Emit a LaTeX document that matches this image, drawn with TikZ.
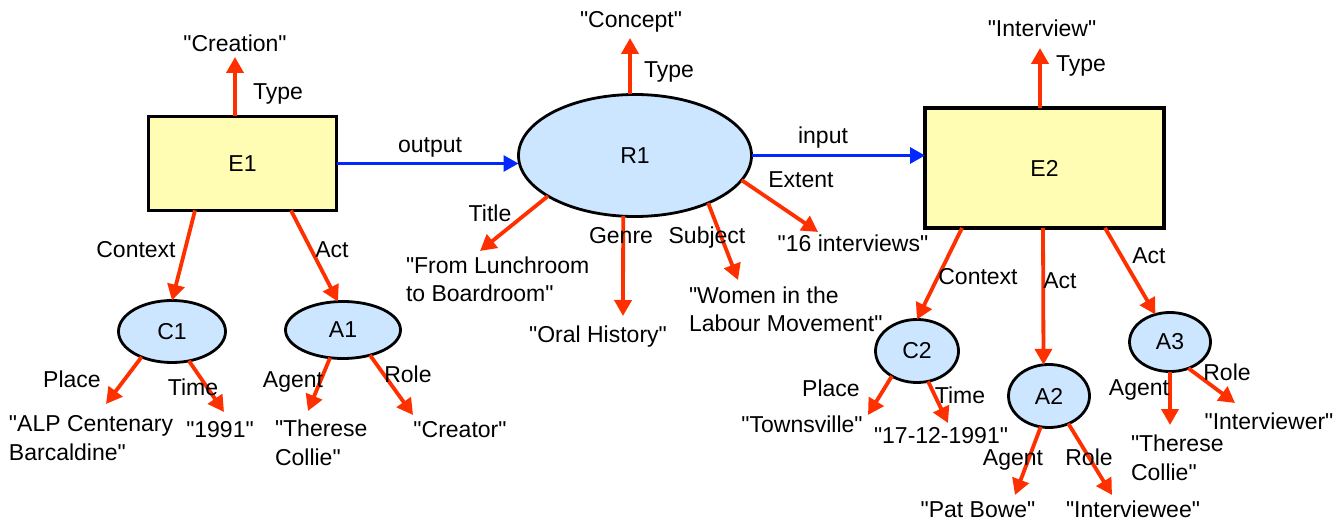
\documentclass[tikz,border=0pt]{standalone}
\usepackage{fontspec}
\setmainfont{Liberation Sans}[Ligatures=TeXOff]
\usetikzlibrary{arrows.meta,shapes.geometric,calc}
\definecolor{efill}{RGB}{255,252,180}
\definecolor{rfill}{RGB}{204,230,255}
\definecolor{relred}{RGB}{255,48,0}
\definecolor{flowblue}{RGB}{0,40,255}
\tikzset{
  every node/.style={font=\fontsize{23}{28.5}\selectfont, inner sep=0pt, outer sep=0pt},
  entity/.style={draw=black, line width=3.5pt, fill=efill, rectangle},
  res/.style={draw=black, line width=2.8pt, fill=rfill, ellipse},
  lit/.style={anchor=base},
  litl/.style={anchor=base west, align=left},
  lbl/.style={anchor=base},
  rel/.style={draw=relred, line width=3.8pt, -{Triangle[length=16pt,width=17pt]}},
  flow/.style={draw=flowblue, line width=3pt, -{Triangle[length=15pt,width=16pt]}}
}
\begin{document}
\begin{tikzpicture}[x=1pt,y=-1pt]
\useasboundingbox[fill=white] (0,0) rectangle (1338,526);

% main nodes
\node[entity, minimum width=188pt, minimum height=94pt] (E1) at (242.5,163.5) {E1};
\node[res, minimum width=233pt, minimum height=122pt] (R1) at (635,155.5) {R1};
\node[entity, minimum width=239pt, minimum height=120pt] (E2) at (1044.5,168) {E2};
\node[res, minimum width=107pt, minimum height=62pt] (C1) at (172,331.5) {C1};
\node[res, minimum width=115pt, minimum height=57pt] (A1) at (343,330) {A1};
\node[res, minimum width=83pt, minimum height=63pt] (C2) at (917,351) {C2};
\node[res, minimum width=81pt, minimum height=63pt] (A2) at (1049,396) {A2};
\node[res, minimum width=81pt, minimum height=59pt] (A3) at (1170,342) {A3};

% literal texts
\node[lit] (creation) at (235,52) {"Creation"};
\node[lit] (concept) at (631,28) {"Concept"};
\node[lit] (interview) at (1042,37) {"Interview"};
\node[litl] (lunch) at (406,302) {"From Lunchroom\\to Boardroom"};
\node[lit] (oral) at (598,343) {"Oral History"};
\node[litl] (women) at (689,332) {"Women in the\\Labour Movement"};
\node[lit] (sixteen) at (853,252) {"16 interviews"};
\node[litl] (alp) at (9,460) {"ALP Centenary\\Barcaldine"};
\node[lit] (y1991) at (220,437) {"1991"};
\node[litl] (therese1) at (275,465) {"Therese\\Collie"};
\node[lit] (creator) at (460,437) {"Creator"};
\node[lit] (townsville) at (802,432) {"Townsville"};
\node[lit] (date2) at (941,443) {"17-12-1991"};
\node[lit] (patbowe) at (978,517) {"Pat Bowe"};
\node[lit] (interviewee) at (1133,517) {"Interviewee"};
\node[litl] (therese3) at (1131,480) {"Therese\\Collie"};
\node[lit] (interviewer) at (1269,429) {"Interviewer"};

% arrow tips
\coordinate (tE1type) at (235,57);
\coordinate (tR1type) at (630,38);
\coordinate (tE2type) at (1040,48);
\coordinate (tTitle) at (480,251);
\coordinate (tGenre) at (623,316);
\coordinate (tSubject) at (738,280);
\coordinate (tExtent) at (818,232);
\coordinate (tPlace1) at (106,404);
\coordinate (tTime1) at (224,412);
\coordinate (tAgent1) at (308,411);
\coordinate (tRole1) at (413,415);
\coordinate (tPlace2) at (868,415);
\coordinate (tTime2) at (948,423);
\coordinate (tAgent2) at (1015,495);
\coordinate (tRole2) at (1112,495);
\coordinate (tAgent3) at (1170,425);
\coordinate (tRole3) at (1235,403);

% flow arrows
\draw[flow] (E1.east) -- (E1.east -| R1.west);
\draw[flow] (R1.east) -- (R1.east -| E2.west);

% relation arrows
\draw[rel] ($(E1.north)+(-7.5,0)$) -- (tE1type);
\draw[rel] ($(R1.north)+(-5,0)$) -- (tR1type);
\draw[rel] ($(E2.north)+(-4.5,0)$) -- (tE2type);
\draw[rel] (R1.205) -- (tTitle);
\draw[rel] (R1.259) -- (tGenre);
\draw[rel] (R1.327) -- (tSubject);
\draw[rel] (R1.347) -- (tExtent);
\draw[rel] ($(E1.south)+(-47.5,0)$) -- (C1.north);
\draw[rel] ($(E1.south)+(48.5,0)$) -- (A1.100);
\draw[rel] (C1.220) -- (tPlace1);
\draw[rel] (C1.300) -- (tTime1);
\draw[rel] (A1.245) -- (tAgent1);
\draw[rel] (A1.317) -- (tRole1);
\draw[rel] ($(E2.south)+(-82.5,0)$) -- (C2.north);
\draw[rel] ($(E2.south)+(-1.5,0)$) -- (A2.100);
\draw[rel] ($(E2.south)+(60.5,0)$) -- (A3.118);
\draw[rel] (C2.225) -- (tPlace2);
\draw[rel] (C2.290) -- (tTime2);
\draw[rel] (A2.255) -- (tAgent2);
\draw[rel] (A2.305) -- (tRole2);
\draw[rel] (A3.south) -- (tAgent3);
\draw[rel] (A3.305) -- (tRole3);

% connector labels
\node[lbl] (lE1type) at (278,100) {Type};
\node[lbl] (lR1type) at (669,78) {Type};
\node[lbl] (lE2type) at (1081,72) {Type};
\node[lbl] (loutput) at (430,153) {output};
\node[lbl] (linput) at (823,144) {input};
\node[lbl] (lextent) at (801,188) {Extent};
\node[lbl] (ltitle) at (490,222) {Title};
\node[lbl] (lgenre) at (621,244) {Genre};
\node[lbl] (lsubject) at (707,244) {Subject};
\node[lbl] (lctx1) at (136,258) {Context};
\node[lbl] (lact1) at (332,258) {Act};
\node[lbl] (lplace1) at (72,388) {Place};
\node[lbl] (ltime1) at (193,395) {Time};
\node[lbl] (lagent1) at (293,388) {Agent};
\node[lbl] (lrole1) at (408,382) {Role};
\node[lbl] (lctx2) at (978,285) {Context};
\node[lbl] (lact2) at (1060,289) {Act};
\node[lbl] (lact3) at (1149,264) {Act};
\node[lbl] (lplace2) at (831,396) {Place};
\node[lbl] (ltime2) at (960,403) {Time};
\node[lbl] (lagent2) at (1013,465) {Agent};
\node[lbl] (lrole2) at (1089,465) {Role};
\node[lbl] (lagent3) at (1139,395) {Agent};
\node[lbl] (lrole3) at (1227,380) {Role};
\end{tikzpicture}
\end{document}
